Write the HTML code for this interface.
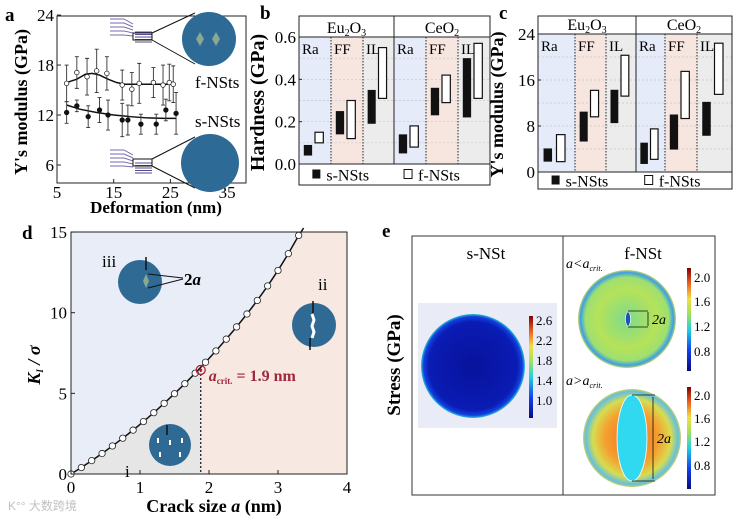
<!DOCTYPE html>
<html><head><meta charset="utf-8">
<style>
html,body{margin:0;padding:0;background:#fff;}
svg{display:block;font-family:"Liberation Serif","Noto Serif CJK SC",serif;}
</style></head>
<body>
<svg id="fig" width="735" height="518" viewBox="0 0 735 518" xmlns="http://www.w3.org/2000/svg">
<defs>
<radialGradient id="gS" cx="50%" cy="50%" r="50%">
<stop offset="0%" stop-color="#08129c"/><stop offset="85%" stop-color="#0a1cb4"/><stop offset="95%" stop-color="#1040e0"/><stop offset="100%" stop-color="#30c0d0"/></radialGradient>
<radialGradient id="gF1" cx="50%" cy="50%" r="50%">
<stop offset="0%" stop-color="#7cdc8c"/><stop offset="60%" stop-color="#b6e25a"/><stop offset="85%" stop-color="#9ee070"/><stop offset="95%" stop-color="#3a9ee8"/><stop offset="100%" stop-color="#c8d860"/></radialGradient>
<radialGradient id="gF2" cx="50%" cy="50%" r="50%">
<stop offset="0%" stop-color="#f06a20"/><stop offset="55%" stop-color="#f4a030"/><stop offset="80%" stop-color="#d8dc50"/><stop offset="95%" stop-color="#60c0e0"/><stop offset="100%" stop-color="#d0d060"/></radialGradient>
<linearGradient id="cb" x1="0" y1="1" x2="0" y2="0">
<stop offset="0%" stop-color="#0a0a80"/><stop offset="20%" stop-color="#1040f0"/><stop offset="40%" stop-color="#20d0e0"/><stop offset="55%" stop-color="#a0e060"/><stop offset="70%" stop-color="#f0e040"/><stop offset="85%" stop-color="#f06020"/><stop offset="100%" stop-color="#800000"/></linearGradient>
</defs>
<g id="pa"></g>
<g id="pb"></g>
<g id="pc"></g>
<g id="pd"></g>
<g id="pe">
  <text x="382" y="237" font-size="19" font-weight="bold">e</text>
  <text transform="translate(400,365) rotate(-90)" text-anchor="middle" font-size="19" font-weight="bold">Stress (GPa)</text>
  <rect x="412" y="236" width="303" height="259" fill="none" stroke="#333" stroke-width="1"/>
  <line x1="563" y1="236" x2="563" y2="495" stroke="#333"/>
  <text x="486" y="259" text-anchor="middle" font-size="17">s-NSt</text>
  <text x="643" y="259" text-anchor="middle" font-size="17">f-NSt</text>
  <rect x="418" y="303" width="139" height="125" fill="#e9ecf6"/>
  <circle cx="473" cy="366" r="52" fill="url(#gS)"/>
  <rect x="529" y="316" width="4" height="102" fill="url(#cb)"/>
  <g font-size="13">
   <text x="536" y="325">2.6</text><text x="536" y="345">2.2</text><text x="536" y="365">1.8</text><text x="536" y="385">1.4</text><text x="536" y="405">1.0</text></g>
  <text x="566" y="268" font-size="14" font-style="italic">a&lt;a<tspan font-size="8" dy="3">crit.</tspan></text>
  <ellipse cx="627" cy="319" rx="49" ry="49" fill="url(#gF1)"/>
  <ellipse cx="628" cy="319" rx="2.5" ry="7" fill="#2050c0" stroke="#fff" stroke-width="0.6"/>
  <path d="M628 311 H648 M628 327 H648 M648 312 V326" stroke="#111" stroke-width="0.8" fill="none"/>
  <text x="652" y="324" font-size="14" font-style="italic">2a</text>
  <rect x="687" y="268" width="4" height="103" fill="url(#cb)"/>
  <g font-size="13">
   <text x="694" y="282">2.0</text><text x="694" y="306">1.6</text><text x="694" y="331">1.2</text><text x="694" y="356">0.8</text></g>
  <text x="566" y="385" font-size="14" font-style="italic">a&gt;a<tspan font-size="8" dy="3">crit.</tspan></text>
  <ellipse cx="632" cy="438" rx="49" ry="49" fill="url(#gF2)"/>
  <ellipse cx="632" cy="438" rx="15" ry="43" fill="#30d8f0" stroke="#fff" stroke-width="0.8"/>
  <path d="M632 395 H655 M632 481 H655 M653 397 V479" stroke="#111" stroke-width="0.8" fill="none"/>
  <text x="657" y="443" font-size="14" font-style="italic">2a</text>
  <rect x="687" y="387" width="4" height="102" fill="url(#cb)"/>
  <g font-size="13">
   <text x="694" y="400">2.0</text><text x="694" y="423">1.6</text><text x="694" y="446">1.2</text><text x="694" y="470">0.8</text></g>
</g>
<text x="8" y="510" font-size="12" fill="#c0c0c0" font-family="Liberation Sans, Noto Sans CJK SC, sans-serif">K°° 大数跨境</text>
</svg>
<script>
// ---------- Panel a data ----------
const aFx = [6.7, 8.5, 10.3, 12, 13.8, 16.5, 18.2, 19.5, 22, 23.7, 24.8, 25.5];
const aFy = [15.8, 17.1, 16.6, 17.3, 17.0, 15.6, 15.1, 15.8, 15.9, 15.6, 15.9, 15.7];
const aFe = [2.2, 1.9, 2.2, 2.6, 2.0, 1.8, 2.0, 2.4, 1.8, 2.4, 2.2, 2.2];
const aSx = [6.7, 8.5, 10.5, 12.5, 14, 16.5, 17.5, 19.8, 22.5, 24.2, 26];
const aSy = [12.3, 13.1, 11.8, 12.6, 12.0, 11.4, 11.4, 10.9, 10.9, 12.6, 12.2];
const aSe = [1.3, 0.7, 1.3, 1.5, 1.8, 2.0, 1.8, 1.2, 1.2, 1.3, 2.5];
const aFitFx = [6.7, 8.5, 10, 11.2, 12.5, 14, 15.5, 17, 20, 23, 25.5];
const aFitFy = [15.9, 16.3, 16.9, 17.0, 16.8, 16.3, 15.9, 15.7, 15.7, 15.7, 15.7];
const aFitSx = [6.7, 9, 12, 15, 18, 21, 24, 26];
const aFitSy = [13.2, 12.7, 12.3, 12.0, 11.8, 11.65, 11.6, 11.6];
const aXTicks = [5, 15, 25, 35];
const aYTicks = [6, 12, 18, 24];
// ---------- Panel b data ----------
const bGroups = ["Ra", "FF", "IL", "Ra", "FF", "IL"];
const bSLow = [0.04, 0.14, 0.19, 0.05, 0.23, 0.22];
const bSHigh = [0.09, 0.25, 0.35, 0.14, 0.36, 0.50];
const bFLow = [0.10, 0.12, 0.31, 0.08, 0.29, 0.31];
const bFHigh = [0.15, 0.30, 0.55, 0.18, 0.42, 0.57];
const bYTicks = [0.0, 0.2, 0.4, 0.6];
// ---------- Panel c data ----------
const cSLow = [1.8, 5.3, 8.5, 1.4, 3.9, 6.3];
const cSHigh = [4.1, 10.5, 14.3, 5.1, 10.0, 12.2];
const cFLow = [1.8, 9.6, 13.2, 2.2, 9.3, 13.5];
const cFHigh = [6.5, 14.2, 20.3, 7.5, 17.5, 22.4];
const cYTicks = [0, 8, 16, 24];
// ---------- Panel d data ----------
const dA = [0, 0.15, 0.30, 0.45, 0.60, 0.75, 0.90, 1.05, 1.20, 1.35, 1.50, 1.65, 1.80, 1.95, 2.10, 2.25, 2.40, 2.55, 2.70, 2.85, 3.00, 3.15, 3.30];
const dK = [0, 0.40, 0.83, 1.27, 1.74, 2.22, 2.72, 3.25, 3.80, 4.38, 4.98, 5.60, 6.25, 6.93, 7.63, 8.36, 9.12, 9.92, 10.76, 11.66, 12.62, 13.66, 14.79];
const dCrit = 1.88, dCritK = 6.45;
const dXTicks = [0, 1, 2, 3, 4];
const dYTicks = [0, 5, 10, 15];

const NS = "http://www.w3.org/2000/svg";
function mk(parent, tag, attrs, txt) {
  const e = document.createElementNS(NS, tag);
  for (const k in attrs) e.setAttribute(k, attrs[k]);
  if (txt !== undefined) e.textContent = txt;
  parent.appendChild(e);
  return e;
}

// ===== Panel a =====
(function () {
  const g = document.getElementById('pa');
  const X = v => 57 + (v - 5) * 5.67, Y = v => 165 - (v - 6) * 8.33;
  let t = mk(g, 'text', { x: 5, y: 21, 'font-size': 19, 'font-weight': 'bold' }, 'a');
   
  let r = mk(g, 'rect', { x: 57, y: 16, width: 189, height: 167, fill: 'none', stroke: '#222' });
   
  aXTicks.forEach(v => {
    mk(g, 'line', { x1: X(v), x2: X(v), y1: 183, y2: 179, stroke: '#222' });
    const tt = mk(g, 'text', { x: X(v), y: 198, 'font-size': 17, 'text-anchor': 'middle' }, v);
     
  });
  aYTicks.forEach(v => {
    mk(g, 'line', { x1: 57, x2: 61, y1: Y(v), y2: Y(v), stroke: '#222' });
    const tt = mk(g, 'text', { x: 54, y: Y(v) + 6, 'font-size': 17, 'text-anchor': 'end' }, v);
     
  });
  t = mk(g, 'text', { x: 156, y: 213, 'font-size': 17, 'font-weight': 'bold', 'text-anchor': 'middle' }, 'Deformation (nm)');
   
  t = mk(g, 'text', { transform: 'translate(27,102) rotate(-90)', 'font-size': 18, 'font-weight': 'bold', 'text-anchor': 'middle' }, "Y's modulus (GPa)");
   
  // insets
  [0, 1].forEach(i => {
    const y0 = i ? 150 : 19;
    for (let k = 0; k < 5; k++) {
      mk(g, 'line', { x1: 110, x2: 124, y1: y0 + k * 4, y2: y0 + k * 4, stroke: '#7a6ab0', 'stroke-width': 1 });
      mk(g, 'line', { x1: 124, x2: 133, y1: y0 + k * 4, y2: y0 + 5 + k * 3, stroke: '#7a6ab0', 'stroke-width': 1 });
      mk(g, 'line', { x1: 135, x2: 152, y1: y0 + 15 + k * 2.5 - 2, y2: y0 + 15 + k * 2.5 - 2, stroke: '#5a4a90', 'stroke-width': 1 });
    }
  });
  mk(g, 'rect', { x: 133, y: 33, width: 19, height: 7, fill: 'none', stroke: '#111' });
  mk(g, 'path', { d: 'M152 33 L195 13 M152 40 L195 64', stroke: '#111', fill: 'none' });
  let c = mk(g, 'circle', { cx: 209, cy: 39, r: 27, fill: '#2e6a96' });
   
  mk(g, 'path', { d: 'M200 32 l4 7 -4 7 -4 -7z M216 32 l4 7 -4 7 -4 -7z', fill: '#8aa890' });
  mk(g, 'rect', { x: 133, y: 159, width: 19, height: 7, fill: 'none', stroke: '#111' });
  mk(g, 'path', { d: 'M152 159 L195 137 M152 166 L195 188', stroke: '#111', fill: 'none' });
  c = mk(g, 'circle', { cx: 210, cy: 163, r: 29, fill: '#2e6a96' });
   
  t = mk(g, 'text', { x: 195, y: 88, 'font-size': 17 }, 'f-NSts');
   
  t = mk(g, 'text', { x: 195, y: 127, 'font-size': 17 }, 's-NSts');
   
  const line = (xs, ys, name) => {
    const p = mk(g, 'polyline', { points: xs.map((x, i) => X(x) + ',' + Y(ys[i])).join(' '), fill: 'none', stroke: '#111', 'stroke-width': 1.5 });
     
  };
  line(aFitFx, aFitFy, 'f-nsts-fit-line');
  line(aFitSx, aFitSy, 's-nsts-fit-line');
  const pts = (xs, ys, es, fill, name) => xs.forEach((x, i) => {
    mk(g, 'path', { d: `M${X(x)} ${Y(ys[i] - es[i])} V${Y(ys[i] + es[i])} M${X(x) - 2} ${Y(ys[i] - es[i])} h4 M${X(x) - 2} ${Y(ys[i] + es[i])} h4`, stroke: '#333', 'stroke-width': 0.9 });
    const cc = mk(g, 'circle', { cx: X(x), cy: Y(ys[i]), r: 2.3, fill: fill, stroke: '#111', 'stroke-width': 0.7 });
     
  });
  pts(aFx, aFy, aFe, '#fff', 'f-nsts-point');
  pts(aSx, aSy, aSe, '#111', 's-nsts-point');
})();

// ===== Panels b & c =====
function bars(id, cfg, sL, sH, fL, fH, ticks, letter, title, tickFmt, titleSize) {
  const g = document.getElementById(id);
  const { L, R, T, H, Y0, Y1, B, vmax, mid, divs } = cfg;
  const Y = v => Y0 - v / vmax * (Y0 - Y1);
  const bounds = [L, divs[0], divs[1], mid, divs[2], divs[3], R];
  const cols = ['#e5ebf8', '#f7e6e0', '#ececec'];
  for (let i = 0; i < 6; i++) mk(g, 'rect', { x: bounds[i], y: H, width: bounds[i + 1] - bounds[i], height: Y0 - H, fill: cols[i % 3] });
  for (let k = 1; k <= 6; k++) {
    const v = vmax / 6 * k;
    if (v < vmax) mk(g, 'line', { x1: L, x2: R, y1: Y(v), y2: Y(v), stroke: '#c8c8c8', 'stroke-dasharray': '2,2', 'stroke-width': 0.7 });
  }
  divs.forEach(x => mk(g, 'line', { x1: x, x2: x, y1: H, y2: Y0, stroke: '#222', 'stroke-dasharray': '1.5,1.5' }));
  let t = mk(g, 'text', { x: L - 39, y: 19, 'font-size': 19, 'font-weight': 'bold' }, letter);
   
  const fr = mk(g, 'rect', { x: L, y: T, width: R - L, height: B - T, fill: 'none', stroke: '#222' });
   
  mk(g, 'line', { x1: L, x2: R, y1: H, y2: H, stroke: '#222' });
  mk(g, 'line', { x1: L, x2: R, y1: Y0, y2: Y0, stroke: '#222' });
  mk(g, 'line', { x1: mid, x2: mid, y1: T, y2: Y0, stroke: '#222' });
  t = mk(g, 'text', { x: (L + mid) / 2, y: H - 4, 'font-size': 16, 'text-anchor': 'middle' });
  t.innerHTML = 'Eu<tspan font-size="10" dy="3">2</tspan><tspan dy="-3">O</tspan><tspan font-size="10" dy="3">3</tspan>';
   
  t = mk(g, 'text', { x: (mid + R) / 2, y: H - 4, 'font-size': 16, 'text-anchor': 'middle' });
  t.innerHTML = 'CeO<tspan font-size="10" dy="3">2</tspan>';
   
  bGroups.forEach((n, i) => {
    const tt = mk(g, 'text', { x: bounds[i] + 3, y: H + 17, 'font-size': 15 }, n);
     
    const w = bounds[i + 1] - bounds[i];
    const sx = bounds[i] + w * 0.15, fx = bounds[i] + w * 0.5, bw = Math.min(8.5, w * 0.26);
    const sb = mk(g, 'rect', { x: sx, y: Y(sH[i]), width: bw, height: Y(sL[i]) - Y(sH[i]), fill: '#111' });
     
    const fb = mk(g, 'rect', { x: fx, y: Y(fH[i]), width: bw, height: Y(fL[i]) - Y(fH[i]), fill: '#fff', stroke: '#111', 'stroke-width': 1.2 });
     
  });
  ticks.forEach(v => {
    mk(g, 'line', { x1: L, x2: L + 3, y1: Y(v), y2: Y(v), stroke: '#222' });
    const tt = mk(g, 'text', { x: L - 3, y: Y(v) + 6, 'font-size': 17, 'text-anchor': 'end' }, tickFmt(v));
     
  });
  const ly = (Y0 + B) / 2;
  const w = R - L;
  let lg = mk(g, 'rect', { x: L + w * 0.07, y: ly - 5, width: 8, height: 9, fill: '#111' });
   
  t = mk(g, 'text', { x: L + w * 0.07 + 14, y: ly + 6, 'font-size': 16 }, 's-NSts');
   
  lg = mk(g, 'rect', { x: L + w * 0.55, y: ly - 5, width: 8, height: 9, fill: '#fff', stroke: '#111' });
   
  t = mk(g, 'text', { x: L + w * 0.55 + 14, y: ly + 6, 'font-size': 16 }, 'f-NSts');
   
  t = mk(g, 'text', { transform: `translate(${L - 35},${(T + B) / 2 + 2}) rotate(-90)`, 'font-size': titleSize, 'font-weight': 'bold', 'text-anchor': 'middle' }, title);
   
}
bars('pb', { L: 299, R: 490, T: 16, H: 37, Y0: 164, Y1: 37, B: 185, vmax: 0.6, mid: 394, divs: [331, 363, 426, 458] },
  bSLow, bSHigh, bFLow, bFHigh, bYTicks, 'b', 'Hardness (GPa)', v => v.toFixed(1), 20);
bars('pc', { L: 538, R: 732, T: 16, H: 34, Y0: 172, Y1: 34, B: 189, vmax: 24, mid: 636, divs: [575, 606, 665, 697] },
  cSLow, cSHigh, cFLow, cFHigh, cYTicks, 'c', "Y's modulus (GPa)", v => String(v), 18);

// ===== Panel d =====
(function () {
  const g = document.getElementById('pd');
  const X = v => 71 + v * 69, Y = v => 474 - v * 16.13;
  let r = mk(g, 'rect', { x: 71, y: 232, width: 276, height: 242, fill: '#e8edf8' });
   
  let ptsPink = [], ptsGray = [];
  dA.forEach((a, i) => { if (a >= dCrit - 0.01) ptsPink.push(X(a) + ',' + Y(dK[i])); else ptsGray.push(X(a) + ',' + Y(dK[i])); });
  const last = dA.length - 1;
  const topX = X(dA[last]) + (X(dA[last]) - X(dA[last - 1])) * (Y(15) - Y(dK[last])) / (Y(dK[last]) - Y(dK[last - 1]));
  r = mk(g, 'polygon', { points: `${X(dCrit)},474 ${X(dCrit)},${Y(dCritK)} ${ptsPink.join(' ')} ${topX},232 347,232 347,474`, fill: '#f7e8e2' });
   
  r = mk(g, 'polygon', { points: `${X(0)},474 ${ptsGray.join(' ')} ${X(dCrit)},${Y(dCritK)} ${X(dCrit)},474`, fill: '#e6e6e6' });
   
  mk(g, 'line', { x1: X(dCrit), x2: X(dCrit), y1: Y(dCritK), y2: 474, stroke: '#222', 'stroke-dasharray': '2,2', 'stroke-width': 1.3 });
  let l = mk(g, 'polyline', { points: dA.map((a, i) => X(a) + ',' + Y(dK[i])).join(' ') + ` ${topX + 3},228`, fill: 'none', stroke: '#111', 'stroke-width': 1.5 });
   
  dA.forEach((a, i) => {
    const c = mk(g, 'circle', { cx: X(a), cy: Y(dK[i]), r: 3.2, fill: '#fff', stroke: '#222', 'stroke-width': 0.8 });
     
  });
  let c = mk(g, 'circle', { cx: X(dCrit), cy: Y(dCritK), r: 4.5, fill: 'none', stroke: '#b0203a', 'stroke-width': 1.3 });
   
  mk(g, 'circle', { cx: X(dCrit), cy: Y(dCritK), r: 1.5, fill: '#b0203a' });
  let t = mk(g, 'text', { x: X(dCrit) + 8, y: Y(dCritK) + 11, 'font-size': 16, 'font-weight': 'bold', fill: '#a0283a' });
  t.innerHTML = '<tspan font-style="italic">a</tspan><tspan font-size="9" dy="3">crit.</tspan><tspan dy="-3"> = 1.9 nm</tspan>';
   
  const fr = mk(g, 'rect', { x: 71, y: 232, width: 276, height: 242, fill: 'none', stroke: '#222' });
   
  dXTicks.forEach(v => {
    mk(g, 'line', { x1: X(v), x2: X(v), y1: 474, y2: 470, stroke: '#222' });
    const tt = mk(g, 'text', { x: X(v), y: 493, 'font-size': 17, 'text-anchor': 'middle' }, v);
     
  });
  dYTicks.forEach(v => {
    mk(g, 'line', { x1: 71, x2: 75, y1: Y(v), y2: Y(v), stroke: '#222' });
    const tt = mk(g, 'text', { x: 67, y: Y(v) + 6, 'font-size': 17, 'text-anchor': 'end' }, v);
     
  });
  t = mk(g, 'text', { x: 22, y: 239, 'font-size': 19, 'font-weight': 'bold' }, 'd');
   
  t = mk(g, 'text', { x: 214, y: 512, 'font-size': 18, 'font-weight': 'bold', 'text-anchor': 'middle' });
  t.innerHTML = 'Crack size <tspan font-style="italic">a</tspan> (nm)';
   
  t = mk(g, 'text', { transform: 'translate(40,365) rotate(-90)', 'font-size': 18, 'font-weight': 'bold', 'font-style': 'italic', 'text-anchor': 'middle' });
  t.innerHTML = 'K<tspan font-size="9" dy="3">I</tspan><tspan dy="-3"> / σ</tspan>';
   
  [['iii', 102, 267], ['ii', 318, 290], ['i', 125, 477]].forEach(p => {
    const tt = mk(g, 'text', { x: p[1], y: p[2], 'font-size': 17 }, p[0]);
     
  });
  [[140, 282, 22, 'inset-iii'], [314, 325, 22, 'inset-ii'], [170, 445, 21, 'inset-i']].forEach(p => {
    const cc = mk(g, 'circle', { cx: p[0], cy: p[1], r: p[2], fill: '#2e6a94' });
     
  });
  mk(g, 'path', { d: 'M146 274 l3 7 -3 7 -3 -7z', fill: '#8aa890' });
  mk(g, 'path', { d: 'M146 257 v13 M313 301 v12 M310 338 v12 M167 425 v10', stroke: '#111', 'stroke-width': 1.5 });
  mk(g, 'path', { d: 'M312 314 l2 6 -2 6 2 6 -2 6', stroke: '#fff', 'stroke-width': 3, fill: 'none' });
  mk(g, 'path', { d: 'M148 274 L183 278 M148 288 L183 279', stroke: '#111', fill: 'none' });
  t = mk(g, 'text', { x: 184, y: 285, 'font-size': 17, 'font-weight': 'bold' });
  t.innerHTML = '2<tspan font-style="italic">a</tspan>';
   
  mk(g, 'path', { d: 'M158 438 v5 M170 440 v5 M182 438 v5 M160 452 v5 M180 452 v5', stroke: '#fff', 'stroke-width': 2 });
})();
</script>
</body></html>
